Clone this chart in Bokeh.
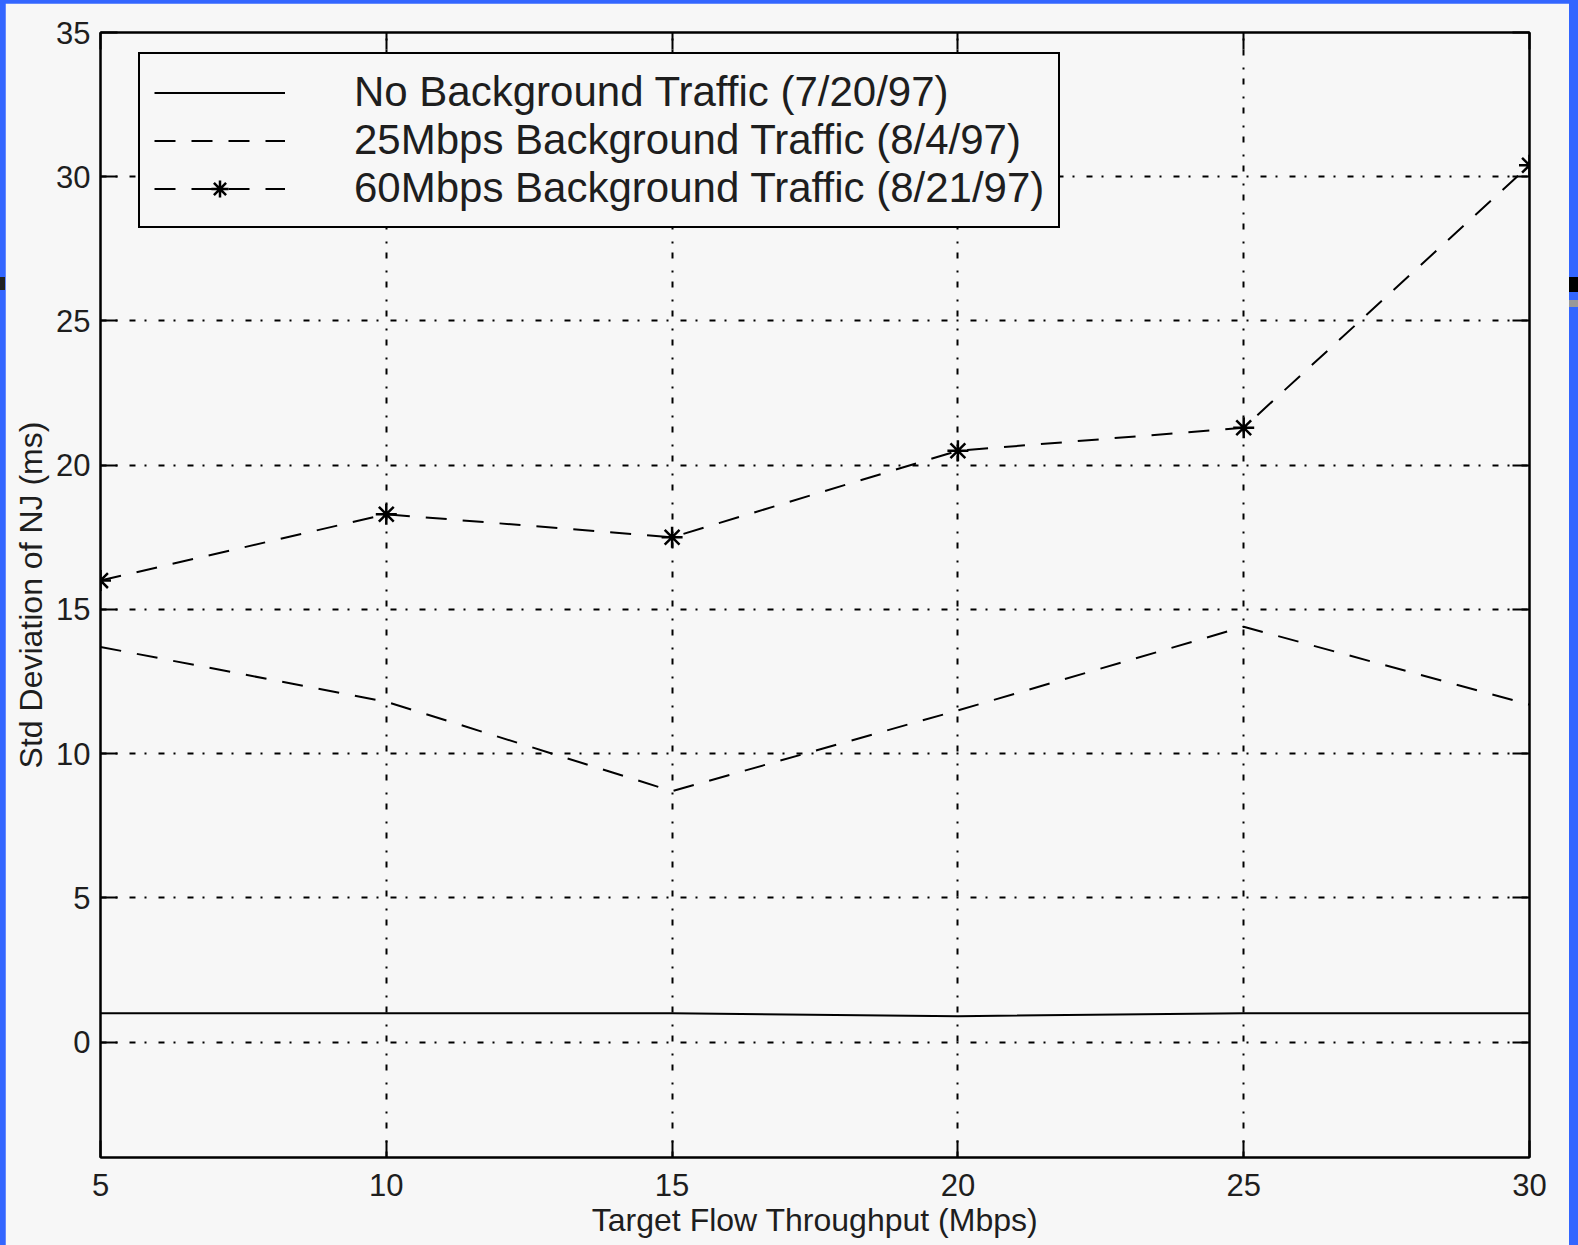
from bokeh.plotting import figure
from bokeh.models import (LinearAxis, Legend, LegendItem, FixedTicker, Range1d,
                          CustomLabelingPolicy)
from bokeh.embed import file_html
from bokeh.resources import INLINE

# Target flow throughput (Mbps) and std deviation of NJ (ms)
throughput = [5, 10, 15, 20, 25, 30]
no_bg = [1.0, 1.0, 1.0, 0.9, 1.0, 1.0]
bg_25 = [13.7, 11.8, 8.7, 11.5, 14.4, 11.7]
bg_60 = [16.0, 18.3, 17.5, 20.5, 21.3, 30.4]

series_labels = [
    "No Background Traffic (7/20/97)",
    "25Mbps Background Traffic (8/4/97)",
    "60Mbps Background Traffic (8/21/97)",
]
x_ticks = [5, 10, 15, 20, 25, 30]
y_ticks = [0, 5, 10, 15, 20, 25, 30, 35]

FONT = "Liberation Sans"
BG = "#f7f7f7"
TXT = "#1e1e1e"

p = figure(
    width=1564, height=1242,
    x_range=Range1d(5, 30), y_range=Range1d(-4, 35),
    output_backend="svg", toolbar_location=None,
    min_border_left=95, min_border_right=40,
    min_border_top=29, min_border_bottom=88,
    background_fill_color=BG, border_fill_color=BG,
    outline_line_color="black", outline_line_width=2,
    margin=(3, 9, 0, 5),
)

bottom_ax = p.below[0]
left_ax = p.left[0]
bottom_ax.axis_label = "Target Flow Throughput (Mbps)"
left_ax.axis_label = "Std Deviation of NJ (ms)"
bottom_ax.ticker = FixedTicker(ticks=x_ticks)
left_ax.ticker = FixedTicker(ticks=y_ticks)

# mirrored tick marks (no labels) on the top and right edges of the box
no_labels = CustomLabelingPolicy(code="return new Set()")
top_ax = LinearAxis(ticker=FixedTicker(ticks=x_ticks), major_label_policy=no_labels,
                    major_label_standoff=0)
right_ax = LinearAxis(ticker=FixedTicker(ticks=y_ticks), major_label_policy=no_labels,
                      major_label_standoff=0)
p.add_layout(top_ax, "above")
p.add_layout(right_ax, "right")

for ax in (bottom_ax, left_ax, top_ax, right_ax):
    ax.axis_line_color = "black"
    ax.axis_line_width = 2
    ax.major_tick_in = 17
    ax.major_tick_out = 0
    ax.major_tick_line_width = 2
    ax.major_tick_line_color = "black"
    ax.minor_tick_line_color = None

for ax in (bottom_ax, left_ax):
    ax.major_label_text_font = FONT
    ax.major_label_text_font_size = "31px"
    ax.major_label_text_color = TXT
    ax.axis_label_text_font = FONT
    ax.axis_label_text_font_size = "32px"
    ax.axis_label_text_font_style = "normal"
    ax.axis_label_text_color = TXT

bottom_ax.major_label_standoff = 16
bottom_ax.axis_label_standoff = 3
left_ax.major_label_standoff = 10
left_ax.axis_label_standoff = 4

p.xgrid.ticker = FixedTicker(ticks=x_ticks)
p.ygrid.ticker = FixedTicker(ticks=y_ticks)
for g in (p.xgrid[0], p.ygrid[0]):
    g.grid_line_color = "black"
    g.grid_line_alpha = 1.0
    g.grid_line_width = 2
    g.grid_line_dash = "6 9 2 12"

r0 = p.line(throughput, no_bg, line_color="black", line_width=2)
r1 = p.line(throughput, bg_25, line_color="black", line_width=2, line_dash="21 16")
r2 = p.line(throughput, bg_60, line_color="black", line_width=2, line_dash="21 16")
r2m = p.scatter(throughput, bg_60, marker="asterisk", size=21,
                line_color="black", line_width=2.5)

legend = Legend(
    items=[
        LegendItem(label=series_labels[0], renderers=[r0]),
        LegendItem(label=series_labels[1], renderers=[r1]),
        LegendItem(label=series_labels[2], renderers=[r2, r2m]),
    ],
    location=(38, 929),
    border_line_color="black", border_line_width=2, border_line_alpha=1.0,
    background_fill_color=BG, background_fill_alpha=1.0,
    label_text_font=FONT, label_text_font_size="42px", label_text_color=TXT,
    glyph_width=131, glyph_height=43, label_standoff=69,
    padding=14, spacing=0, margin=0,
)
p.add_layout(legend)

html = file_html(p, INLINE)
html = html.replace(
    "</head>",
    "<style>html,body{margin:0;padding:0;background:#3366ff;}"
    ".edge{position:absolute;width:9px;}</style></head>",
)
html = html.replace(
    "</body>",
    '<div class="edge" style="right:0;top:277px;height:15px;background:#000;"></div>'
    '<div class="edge" style="right:0;top:300px;height:7px;background:#999;"></div>'
    '<div class="edge" style="left:0;width:5px;top:277px;height:13px;background:#222;"></div>'
    "</body>",
)
open("out.html", "w").write(html)
